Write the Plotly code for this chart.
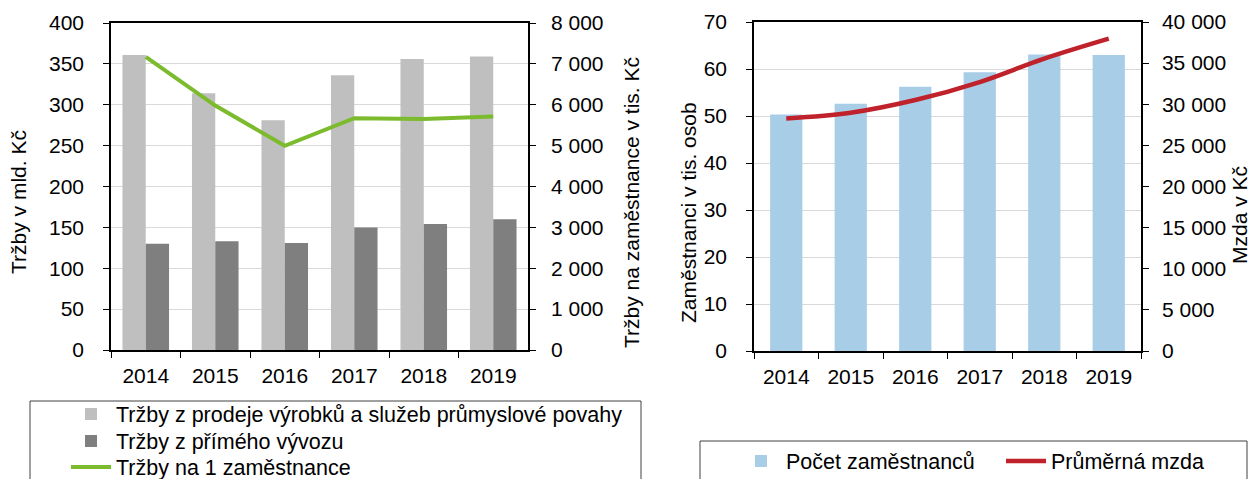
import plotly.graph_objects as go

W, H = 1254, 479

years = ["2014", "2015", "2016", "2017", "2018", "2019"]

# Left chart
trzby_prodej = [361, 314, 281, 336, 356, 359]        # mld. Kč
trzby_vyvoz = [130, 133, 131, 150, 154, 160]         # mld. Kč
trzby_na_zam = [7170, 5980, 4995, 5670, 5650, 5710]  # tis. Kč

# Right chart
zamestnanci = [50.3, 52.6, 56.2, 59.3, 63.1, 63.0]        # tis. osob
mzda = [28280, 28970, 30510, 32700, 35540, 37970]         # Kč

left_y_ticks = [0, 50, 100, 150, 200, 250, 300, 350, 400]
left_y2_ticks = [0, 1000, 2000, 3000, 4000, 5000, 6000, 7000, 8000]
right_y_ticks = [0, 10, 20, 30, 40, 50, 60, 70]
right_y2_ticks = [0, 5000, 10000, 15000, 20000, 25000, 30000, 35000, 40000]

names_left = ["Tržby z prodeje výrobků a služeb průmyslové povahy",
              "Tržby z přímého vývozu",
              "Tržby na 1 zaměstnance"]
names_right = ["Počet zaměstnanců", "Průměrná mzda"]
titles = ["Tržby v mld. Kč", "Tržby na zaměstnance v tis. Kč",
          "Zaměstnanci v tis. osob", "Mzda v Kč"]

FONT = "Liberation Sans, Arial, sans-serif"
FS = 21
LFS = 21.5


def px(x):
    return x / W


def py(y):
    return (H - y) / H


fig = go.Figure()

fig.add_trace(go.Bar(x=years, y=trzby_prodej, name=names_left[0],
                     marker=dict(color="#BFBFBF", line=dict(width=0)),
                     xaxis="x", yaxis="y", legend="legend"))
fig.add_trace(go.Bar(x=years, y=trzby_vyvoz, name=names_left[1],
                     marker=dict(color="#7F7F7F", line=dict(width=0)),
                     xaxis="x", yaxis="y", legend="legend3"))
fig.add_trace(go.Scatter(x=years, y=trzby_na_zam, name=names_left[2],
                         mode="lines", line=dict(color="#7CBB2D", width=4),
                         xaxis="x", yaxis="y2", legend="legend4"))

fig.add_trace(go.Bar(x=years, y=zamestnanci, name=names_right[0], width=0.5,
                     marker=dict(color="#A8CDE7", line=dict(width=0)),
                     xaxis="x2", yaxis="y3", legend="legend2"))
fig.add_trace(go.Scatter(x=years, y=mzda, name=names_right[1],
                         mode="lines", line=dict(color="#C0222B", width=4.5, shape="spline"),
                         xaxis="x2", yaxis="y4", legend="legend2"))

axis_common = dict(showline=True, linecolor="black", linewidth=1.5,
                   ticks="outside", ticklen=6, tickcolor="black", automargin=False,
                   tickfont=dict(size=FS, color="black", family=FONT))

L_dom_x = [px(111), px(528)]
L_dom_y = [py(350), py(23)]
R_dom_x = [px(754), px(1141)]
R_dom_y = [py(351), py(22)]

legend_font = dict(size=LFS, family=FONT, color="black")


def left_legend(y_center):
    return dict(orientation="v", xref="container", yref="container",
                x=px(66), y=py(y_center), xanchor="left", yanchor="middle",
                bgcolor="rgba(0,0,0,0)", borderwidth=0,
                font=legend_font, itemwidth=40)


fig.update_layout(
    width=W, height=H,
    margin=dict(l=0, r=0, t=0, b=0, autoexpand=False),
    paper_bgcolor="white", plot_bgcolor="white",
    font=dict(family=FONT, size=FS, color="black"),
    separators=", ",
    barmode="group",
    bargap=0.33, bargroupgap=0,
    xaxis=dict(domain=L_dom_x, anchor="y", type="category", mirror=True,
               tickson="boundaries", ticklabelstandoff=6, **axis_common),
    yaxis=dict(domain=L_dom_y, anchor="x", range=[0, 400], tickvals=left_y_ticks,
               showgrid=True, gridcolor="#D9D9D9", gridwidth=1, zeroline=False,
               ticklabelstandoff=15, **axis_common),
    yaxis2=dict(overlaying="y", side="right", anchor="x", range=[0, 8000],
                tickvals=left_y2_ticks, tickformat=",d", showgrid=False, zeroline=False,
                ticklabelstandoff=11, **axis_common),
    xaxis2=dict(domain=R_dom_x, anchor="y3", type="category", mirror=True,
                tickson="boundaries", ticklabelstandoff=6, **axis_common),
    yaxis3=dict(domain=R_dom_y, anchor="x2", range=[0, 70], tickvals=right_y_ticks,
                showgrid=True, gridcolor="#D9D9D9", gridwidth=1, zeroline=False,
                ticklabelstandoff=15, **axis_common),
    yaxis4=dict(overlaying="y3", side="right", anchor="x2", range=[0, 40000],
                tickvals=right_y2_ticks, tickformat=",d", showgrid=False, zeroline=False,
                ticklabelstandoff=9, **axis_common),
    legend=left_legend(414),
    legend3=left_legend(441),
    legend4=left_legend(467),
    legend2=dict(orientation="h", xref="container", yref="container",
                 x=px(736), y=py(461), xanchor="left", yanchor="middle",
                 bgcolor="rgba(0,0,0,0)", borderwidth=0, traceorder="normal",
                 entrywidth=210, entrywidthmode="pixels",
                 font=legend_font, itemwidth=40),
    showlegend=True,
)

# Legend frames
fig.add_shape(type="rect", xref="paper", yref="paper",
              x0=px(30), x1=px(641), y0=py(401), y1=py(500),
              line=dict(color="#404040", width=1), fillcolor="rgba(0,0,0,0)", layer="below")
fig.add_shape(type="rect", xref="paper", yref="paper",
              x0=px(700), x1=px(1247), y0=py(441), y1=py(500),
              line=dict(color="#404040", width=1), fillcolor="rgba(0,0,0,0)", layer="below")

# Axis titles
ann = [
    (19, 202, titles[0]),
    (631, 203, titles[1]),
    (688, 213, titles[2]),
    (1240, 215, titles[3]),
]
for x, y, t in ann:
    fig.add_annotation(text=t, x=px(x), y=py(y), xref="paper", yref="paper",
                       textangle=-90, showarrow=False, xanchor="center", yanchor="middle",
                       font=dict(size=FS, family=FONT, color="black"))

fig.write_html("out.html", config={"displayModeBar": False},
               post_script="document.body.style.margin='0px';document.body.style.overflow='hidden';")
